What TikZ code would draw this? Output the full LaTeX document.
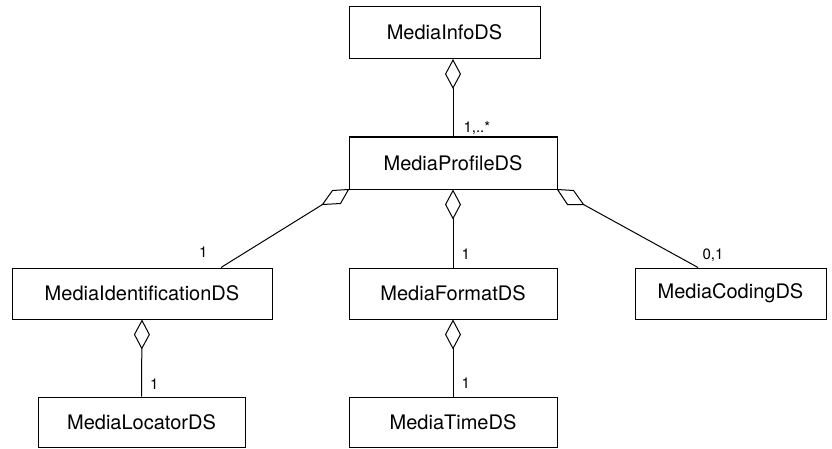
\documentclass[tikz,border=0pt]{standalone}
\usepackage{fontspec}
\setmainfont{TeX Gyre Heros}
\usetikzlibrary{arrows.meta,calc}

\tikzset{
    agg/.style={-{Diamond[open,length=30pt,width=16pt]}},
    mult/.style={draw=none, inner sep=0pt, font=\fontsize{15}{18}\selectfont},
}

\begin{document}
\begin{tikzpicture}[x=1pt,y=1pt,line width=1pt]
\useasboundingbox (0,0) rectangle (832,448);
\begin{scope}[every node/.style={draw, inner sep=0pt, minimum height=52pt, font=\fontsize{20}{24}\selectfont}]
    \node[minimum width=191pt] (info) at (444.5,415.5) {MediaInfoDS};
    \node[minimum width=208pt] (profile) at (453,285) {MediaProfileDS};
    \node[minimum width=260pt, minimum height=51pt] (ident) at (142,154.5) {MediaIdentificationDS};
    \node[minimum width=208pt, minimum height=51pt] (format) at (453,154.5) {MediaFormatDS};
    \node[minimum width=191pt, minimum height=51pt] (coding) at (730.5,154.5) {MediaCodingDS};
    \node[minimum width=207pt, minimum height=50pt] (locator) at (141.5,26) {MediaLocatorDS};
    \node[minimum width=208pt, minimum height=50pt] (time) at (453,26) {MediaTimeDS};
\end{scope}
% slanted diamonds at the lower corners of MediaProfileDS
\draw (profile.south west) -- ++(-16,-1) -- ++(-10,-14) -- ++(18,1) -- cycle;
\draw (profile.south east) -- ++(16,-1) -- ++(10,-14) -- ++(-16,0) -- cycle;
\coordinate (ltip) at ($(profile.south west)+(-26,-15)$);
\coordinate (rtip) at ($(profile.south east)+(26,-15)$);
\coordinate (identend) at ($(ident.north)+(79,0)$);
\coordinate (codingend) at ($(coding.north)+(-32.5,0)$);
\begin{scope}[every edge/.style={draw, line width=1pt}]
    \path (profile.north -| profile) edge[agg] node[mult, pos=0, anchor=base west, xshift=10pt, yshift=4pt] (m1) {1,..*} (info.south -| profile);
    \path (format.north) edge[agg] node[mult, pos=0, anchor=base west, xshift=8pt, yshift=8pt] (m2) {1} (profile.south);
    \path (locator.north) edge[agg] node[mult, pos=0, anchor=base west, xshift=8pt, yshift=7pt] (m3) {1} (ident.south);
    \path (time.north) edge[agg] node[mult, pos=0, anchor=base west, xshift=8pt, yshift=8pt] (m4) {1} (format.south);
    \path (identend) edge node[mult, pos=0, anchor=base east, xshift=-13pt, yshift=10pt] (m5) {1} (ltip);
    \path (codingend) edge node[mult, pos=0, anchor=base west, xshift=4pt, yshift=8pt] (m6) {0,1} (rtip);
\end{scope}
\end{tikzpicture}
\end{document}
